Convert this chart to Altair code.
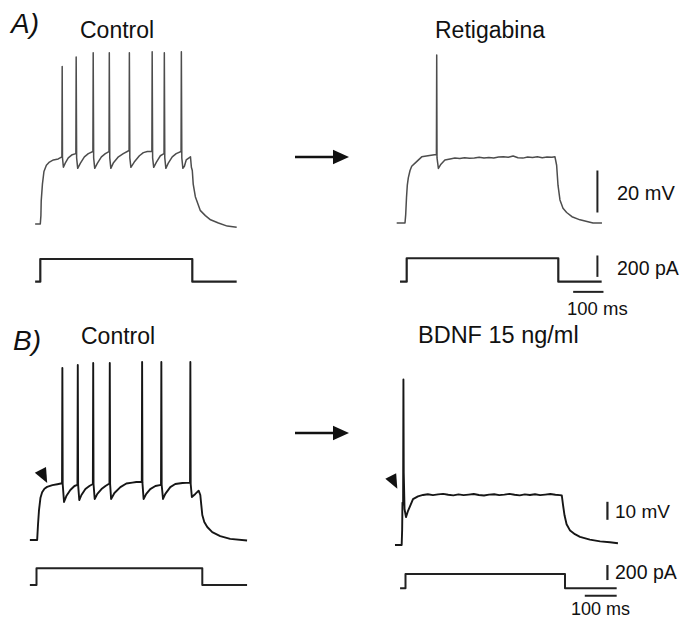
import altair as alt
import pandas as pd

# ---------------- data ----------------
# A) Control : membrane potential (time in ms from step onset, mV)
a_ctrl_t = [-17, 0, 2, 3, 7, 12, 20, 30, 43, 59, 71,
            72, 73, 76,
            82, 92, 105, 117, 118, 119.5, 123,
            132, 145, 158, 173, 174, 175.5, 179,
            188, 201, 214, 226, 227, 228.5, 232,
            240, 257, 273, 292, 293, 294.5, 298,
            309, 326, 339, 352, 367, 368, 369.5, 373,
            382, 395, 407, 408, 409.5, 413,
            421, 434, 447, 463, 464, 465.5, 469,
            474, 480, 494, 497, 500, 503, 510, 526, 543, 560, 586, 615, 646]
a_ctrl_v = [-70, -70, -66, -59, -51, -45, -42, -40.5, -39.5, -39, -38,
            5, -38.5, -43,
            -41, -38.5, -37, -36.5, 9.5, -38.5, -43.5,
            -41, -38, -36.5, -35.5, 11.5, -38.5, -43.5,
            -41, -38, -36.5, -35.5, 11.5, -38.5, -43.5,
            -41, -38, -36.5, -35, 11.5, -38.5, -43,
            -40.5, -37.5, -36, -35.5, -35.5, 12, -38.5, -43,
            -40.5, -37.5, -36.5, 11.5, -38.5, -43.5,
            -41, -38, -36.5, -35.5, 12, -38.5, -43.5,
            -42.5, -39.5, -38, -43, -44.5, -51, -57, -63.5, -66, -68, -69.5, -71, -71.5]
a_ctrl_step_t = [-17, 0, 0, 500, 500, 646]
a_ctrl_step_i = [0, 0, 212, 212, 0, 0]

# A) Retigabina
a_reti_t = [-33, -5.6, -3.3, -0.7, 2, 5.3, 11, 16.5, 27.5, 49.5, 70, 91.5, 98,
            99, 100, 104.5, 113, 126,
            143, 159, 175, 191, 207, 223, 239, 255, 271, 287, 303, 319, 335, 351,
            367, 383, 399, 415, 431, 447, 463, 479, 489,
            494.5, 499, 505.5, 515.5, 527.5, 545, 571.5, 614.5, 644]
a_reti_v = [-70, -70, -66, -58, -52, -48.5, -45, -43, -41.5, -38.5, -38, -37.5, -37.5,
            10, -39, -44, -42, -40,
            -39.5, -39.1, -39.3, -38.9, -39.2, -39, -38.7, -39.1, -38.8, -39, -38.6, -38.4, -38.7, -38.1,
            -38.9, -39.1, -38.6, -38.8, -38.5, -38.9, -38.6, -38.7, -38.5,
            -42.5, -52, -59, -63, -65, -67, -68.5, -70, -70]
a_reti_step_t = [-22, 0, 0, 500, 500, 643]
a_reti_step_i = [0, 0, 219, 219, 0, 0]

# B) Control
b_ctrl_t = [-20, 2, 4.5, 7.5, 12, 17, 24, 32, 48, 63, 77,
            78, 79, 83,
            90, 102, 114.5, 123.5, 124.5, 125.5, 129,
            135.5, 147.5, 159.5, 170, 171, 172, 175.5,
            183.5, 196, 208, 220, 221, 222, 225,
            235, 253, 271, 289, 301, 317.5, 318.5, 319.5, 323,
            331, 343, 358.5, 375.5, 376.5, 377.5, 381.5,
            388.5, 403.5, 418.5, 440, 463, 464, 465, 468.5,
            479, 489, 494, 497, 500, 506, 515, 530, 554, 584, 635]
b_ctrl_v = [-70, -70, -61.5, -53.5, -46.5, -43.5, -41.5, -40.5, -39.5, -39, -38.5,
            25.6, -38.9, -48.9,
            -45.6, -42.2, -40, -39.4, 27.2, -39.4, -47.8,
            -45, -41.7, -40, -38.9, 28.3, -38.9, -47.2,
            -44.4, -41.7, -40, -38.6, 28.3, -38.9, -47.2,
            -43.9, -40.6, -38.6, -38.1, -37.8, -37.8, 28.9, -38.3, -47.2,
            -44.4, -41.7, -40, -39.4, 28.9, -39.4, -47.2,
            -44.4, -40.6, -38.9, -38.3, -38.1, 28.9, -38.9, -46.1,
            -44.4, -42.6, -45, -50.6, -56.1, -60, -62.8, -65.6, -67.8, -69.4, -70.3]
b_ctrl_step_t = [-20, 0, 0, 500, 500, 635]
b_ctrl_step_i = [0, 0, 223, 223, 0, 0]

# B) BDNF 15 ng/ml
b_bdnf_t = [-33, -12, -10.5, -9.5, -7.5, -6.5, -5.5, -3, 1.5, 8, 14, 23.5, 39,
            55, 70, 86, 102, 118, 134, 150, 166, 182, 198, 214, 230, 246, 262,
            278, 294, 310, 326, 342, 358, 374, 390, 406, 422, 438, 454, 470, 484,
            490, 494, 498.5, 505, 516, 531, 547, 578, 610, 641, 666]
b_bdnf_v = [-70, -70, -61.5, -46.5, -47.5, 22, -30, -50, -54.5, -51, -48.5, -44.5, -43,
            -42.2, -41.8, -42.3, -41.9, -41.6, -42.1, -42.4, -41.9, -42.3, -42, -41.7, -42.2, -42.5, -42,
            -41.8, -42.3, -42, -41.6, -42.1, -42.4, -41.9, -42.2, -41.8, -42.3, -42, -41.7, -42.1, -42.3,
            -42.5, -48, -53.5, -58.5, -62, -64, -65.5, -67, -68, -68.5, -69]
b_bdnf_step_t = [-17, 0, 0, 500, 500, 662]
b_bdnf_step_i = [0, 0, 190, 190, 0, 0]

# scale bars (20 mV / 10 mV, 200 pA, 100 ms)
a_bar_mv_t, a_bar_mv_v = [629, 629], [-65, -45]
a_bar_pa_t, a_bar_pa_i = [629, 629], [45, 245]
a_bar_ms_t, a_bar_ms_i = [549, 649], [-95, -95]
b_bar_mv_t, b_bar_mv_v = [633, 633], [-56, -46]
b_bar_pa_t, b_bar_pa_i = [633, 633], [110, 310]
b_bar_ms_t, b_bar_ms_i = [562, 662], [-99, -99]

# arrowheads marking the first spike threshold in B (ms, mV)
b_ctrl_mark_t, b_ctrl_mark_v = [19], [-33.5]
b_bdnf_mark_t, b_bdnf_mark_v = [-39], [-34]

titles = ["Control", "Retigabina", "Control", "BDNF 15 ng/ml"]
panel_tags = ["A)", "B)"]
bar_labels = ["20 mV", "200 pA", "100 ms", "10 mV", "200 pA", "100 ms"]

# ---------------- layout (pixel ranges of each panel's scales) ----------------
T_DOM, V_DOM, I_DOM = [0, 500], [-70, 30], [0, 200]
LAYOUT = {
    "A1": {"t": [40.3, 192.3], "v": [224, 14], "i": [281.7, 260.3]},
    "A2": {"t": [406.7, 558.3], "v": [223, 13], "i": [281.7, 260.3]},
    "B1": {"t": [36.5, 202.3], "v": [540, 360], "i": [585, 570]},
    "B2": {"t": [405.5, 565], "v": [545, 365], "i": [588.3, 573.3]},
}
FONT = "Liberation Sans"


def xs(p, field="t"):
    return alt.X(f"{field}:Q", scale=alt.Scale(domain=T_DOM, range=LAYOUT[p]["t"], nice=False, zero=False),
                 axis=None)


def ys(p, kind, field="y"):
    dom = V_DOM if kind == "v" else I_DOM
    return alt.Y(f"{field}:Q", scale=alt.Scale(domain=dom, range=LAYOUT[p][kind], nice=False, zero=False),
                 axis=None)


def trace(p, kind, t, y, color, width):
    df = pd.DataFrame({"t": t, "y": y, "k": list(range(len(t)))})
    return alt.Chart(df).mark_line(color=color, strokeWidth=width, strokeJoin="round",
                                   strokeCap="butt").encode(x=xs(p), y=ys(p, kind), order="k:Q")


def label(text, x, y, size, italic=False, color="#111111"):
    return alt.Chart(alt.Data(values=[{}])).mark_text(
        text=text, align="left", baseline="alphabetic", font=FONT, fontSize=size,
        fontStyle="italic" if italic else "normal", color=color
    ).encode(x=alt.value(x), y=alt.value(y))


def marker(p, t, v, path, size):
    df = pd.DataFrame({"t": t, "y": v})
    return alt.Chart(df).mark_point(shape=path, size=size, filled=True, color="#111111",
                                    opacity=1, strokeWidth=0).encode(x=xs(p), y=ys(p, "v"))


A_COL, B_COL, STEP_COL = "#4d4d4d", "#161616", "#222222"

layers = [
    trace("A1", "v", a_ctrl_t, a_ctrl_v, A_COL, 1.5),
    trace("A1", "i", a_ctrl_step_t, a_ctrl_step_i, STEP_COL, 2.2),
    trace("A2", "v", a_reti_t, a_reti_v, A_COL, 1.5),
    trace("A2", "i", a_reti_step_t, a_reti_step_i, STEP_COL, 2.2),
    trace("B1", "v", b_ctrl_t, b_ctrl_v, B_COL, 1.9),
    trace("B1", "i", b_ctrl_step_t, b_ctrl_step_i, STEP_COL, 2.0),
    trace("B2", "v", b_bdnf_t, b_bdnf_v, B_COL, 1.9),
    trace("B2", "i", b_bdnf_step_t, b_bdnf_step_i, STEP_COL, 2.0),
    # scale bars
    trace("A2", "v", a_bar_mv_t, a_bar_mv_v, STEP_COL, 2.0),
    trace("A2", "i", a_bar_pa_t, a_bar_pa_i, STEP_COL, 2.0),
    trace("A2", "i", a_bar_ms_t, a_bar_ms_i, STEP_COL, 2.0),
    trace("B2", "v", b_bar_mv_t, b_bar_mv_v, STEP_COL, 2.2),
    trace("B2", "i", b_bar_pa_t, b_bar_pa_i, STEP_COL, 2.2),
    trace("B2", "i", b_bar_ms_t, b_bar_ms_i, STEP_COL, 2.0),
    # arrowheads at spike threshold
    marker("B1", b_ctrl_mark_t, b_ctrl_mark_v, "M-1,-0.2L0.4,-0.9L0.55,1.1Z", 256),
    marker("B2", b_bdnf_mark_t, b_bdnf_mark_v, "M-1,-0.2L0.4,-0.9L0.55,1.1Z", 240),
]

# arrows between panels
for ay in (157, 433):
    layers.append(alt.Chart(alt.Data(values=[{}])).mark_rule(color="#111111", strokeWidth=2.5).encode(
        x=alt.value(295), x2=alt.value(335), y=alt.value(ay)))
    layers.append(alt.Chart(alt.Data(values=[{}])).mark_point(
        shape="M-1,-0.9L1,0L-1,0.9Z", size=256, filled=True, color="#111111", opacity=1, strokeWidth=0
    ).encode(x=alt.value(341), y=alt.value(ay)))

# texts
layers += [
    label(panel_tags[0], 11, 33, 28, italic=True),
    label(panel_tags[1], 13, 350, 28, italic=True),
    label(titles[0], 80, 38, 23),
    label(titles[1], 435, 38, 23),
    label(titles[2], 81, 344, 23),
    label(titles[3], 418, 343, 23.5),
    label(bar_labels[0], 617, 200, 20),
    label(bar_labels[1], 617, 275, 19.5),
    label(bar_labels[2], 567, 315, 18.5),
    label(bar_labels[3], 615, 518, 19),
    label(bar_labels[4], 615, 579, 19.5),
    label(bar_labels[5], 571, 615, 18),
]

chart = alt.layer(*layers).resolve_scale(x="independent", y="independent").properties(
    width=680, height=619, padding=0, autosize=alt.AutoSizeParams(type="none"), background="white"
).configure_view(stroke=None)

chart.save("out.html", embed_options={"renderer": "svg", "actions": False})
